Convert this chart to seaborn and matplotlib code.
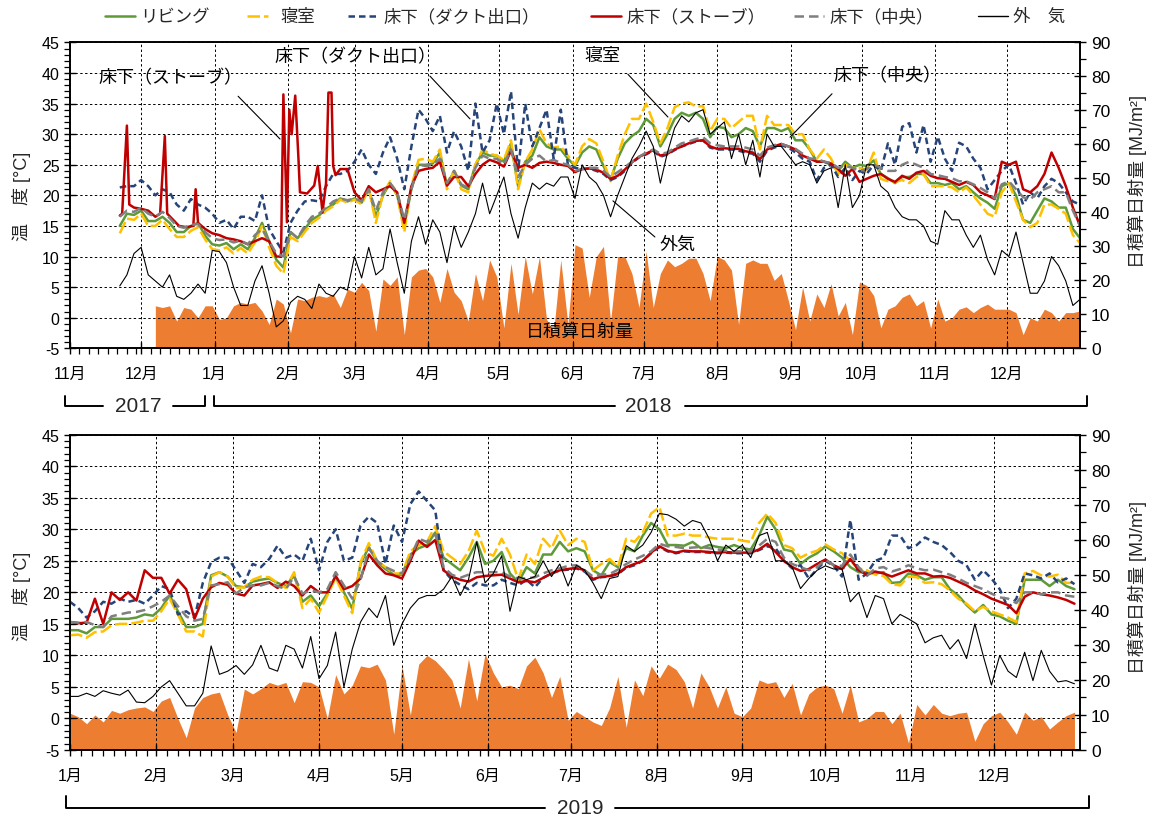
import numpy as np
import pandas as pd
import matplotlib
matplotlib.use('Agg')
import matplotlib.pyplot as plt
from matplotlib.lines import Line2D
from matplotlib.ticker import MultipleLocator
import matplotlib.dates as mdates
import seaborn as sns

N = np.nan

# ------------------------------------------------------------------
# DATA  (top panel: every 3 days from 2017-11-01, 143 points)
# ------------------------------------------------------------------
top_start = '2017-11-01'
top_outdoor = [N]*7 + [
    5.2, 7, 10.5, 11.5, 7, 6, 5, 7, 3.5, 3, 4, 5.5, 4, 11, 10.8, 9, 5, 2, 2, 6,
    8.5, 4, -1.5, -0.5, 2.5, 3.5, 3, 1.5, 5.5, 4, 3.5, 5, 4.5, 10, 6.5, 11.5, 7, 8, 14.5, 9,
    4, 12.5, 16.5,
    12, 16, 14, 9, 15, 11.5, 14, 17, 22, 17, 20, 23, 17, 13, 18, 22, 21, 22, 21.5, 23,
    23, 19.5, 25, 23, 22, 20, 16.5, 20, 23, 26, 28, 30.5, 28, 22, 27, 31, 33, 32, 33.5, 34,
    30, 31, 32, 26, 30, 25, 29,
    23, 30, 28, 28, 26.5, 25, 25.5, 25, 22, 24, 24.5, 18, 25, 18, 20, 25, 25, 21.5, 20.5, 18,
    16.5, 16, 16, 15, 12.5, 12, 17.5, 16, 16, 13.5, 11.5, 13.5, 9.5, 7, 11, 10, 14, 9, 4, 4,
    6, 10, 8.5, 6, 2, 3]
top_living = [N]*7 + [
    15, 17, 16.8, 17.5, 15.8, 15.8, 16.5, 15.5, 14, 14, 15, 15.5, 13.4, 12, 11.8, 12.2, 11.2, 12, 11.2, 13,
    15.5, 12.5, 9.5, 8.2, 14, 13, 14.5, 16, 16.7, 17.8, 18.5, 19.5, 19, 19.5, 18.8, 21, 16.5, 20, 22, 20,
    15, 21, 25,
    25, 25.2, 27, 21.6, 24, 21.6, 21, 25, 27, 26.5, 26.5, 25.5, 28.5, 21.5, 25.5, 26.5, 29.5, 28, 27.5, 27.5,
    26, 24.8, 27, 28, 27.5, 24.8, 22.5, 26, 28.5, 29.7, 30.5, 32.5, 31.5, 28, 30, 32.5, 33.5, 33, 33.5, 32.5,
    29.5, 31.2, 31, 29.5, 30, 31, 30.5,
    28, 31, 31, 30.5, 31, 29, 29, 27.5, 25.5, 25.5, 25, 24, 25.5, 24.5, 25, 24.8, 25.7, 23.5, 22.8, 22,
    23, 23, 23.5, 23.5, 22, 22, 21.7, 22, 21, 21.5, 20.5, 19.5, 18.8, 17.8, 21.5, 22, 20, 16, 15.5, 17.5,
    19.5, 19, 18, 18, 14.5, 13]
top_bedroom = [N]*7 + [
    13.8, 16.2, 16, 17, 15, 15, 16, 14.5, 13.2, 13.2, 14.2, 14.8, 12.8, 11.2, 11, 11.5, 10.5, 11.4, 10.5, 12.3,
    15, 11.5, 8.5, 7.2, 13.2, 12.5, 14, 15.5, 16.3, 17.5, 18.2, 19.3, 18.8, 19.3, 18.5, 21.2, 15.5, 20.2, 22.3, 20,
    14, 21.5, 25.8,
    26, 25.5, 27.5, 21, 24.2, 21, 20.5, 25, 27.5, 26.8, 26.5, 25.8, 29, 21, 25.5, 27.5, 30.8, 28.5, 27.8, 28,
    26.5, 25, 28, 29.2, 28.5, 25.5, 22.3, 26.5, 30, 32.5, 32.5, 35, 32, 28.5, 31, 34.4, 35, 35.2, 34.5, 34.6,
    30.5, 32.5, 32.5, 31, 32, 33, 33,
    27.5, 33, 31.5, 31.5, 31.5, 30, 30, 27.5, 26, 27.5, 26, 23.5, 25, 24.5, 24.5, 24.2, 27, 22.7, 22.3, 22.2,
    22.5, 22, 23, 23.5, 21.5, 21.5, 21.5, 21.3, 20.5, 21.3, 20, 18.5, 17, 16.5, 20.5, 22, 19, 16, 14.8, 15.5,
    18.5, 18.5, 17.8, 17, 13.5, 12.2]
top_center = [N]*7 + [
    16.5, 17.5, 17.3, 18, 17, 16.5, 17.3, 16.3, 15, 14.7, 15.2, 15.3, 14, 13, 12.7, 12.8, 12.3, 12.6, 12, 13.5,
    14.5, 12.5, 10.5, 10, 14, 13, 15, 16.5, 17, 18, 19, 19.5, 19.2, 19.5, 19, 21, 17.5, 20.5, 22, 20.5,
    16, 21, 25,
    24.8, 25, 26, 22, 24, 21.8, 21.2, 24.5, 26.5, 26, 26, 25, 27.5, 23, 25, 26, 26.5, 25.5, 25.8, 25.3,
    25, 24, 24.3, 24.5, 24.5, 24, 23, 23.8, 24.6, 25.5, 26.3, 27, 27.5, 26.8, 27, 27.8, 28.5, 28.8, 29.2, 29.5,
    28.5, 28.2, 28, 28, 28, 27.8, 27.5,
    26.5, 27.8, 28.2, 28.4, 28, 27.6, 26.8, 26, 26, 25.5, 25.3, 24.5, 24.8, 24.5, 24, 24.3, 25, 24.5, 24, 24,
    25, 25.5, 25, 24.5, 23.5, 23.3, 23, 22.8, 22.3, 22.3, 21.8, 21.2, 20.5, 19.5, 21.8, 22.3, 21, 19.7, 19.3, 20.5,
    21, 21.5, 20.5, 20.5, 17.5, 15]
top_duct = [N]*7 + [
    21.3, 21.5, 21.5, 22.5, 21.5, 20, 21, 20.5, 18.5, 17.5, 19.4, 18.5, 18, 17, 15.5, 16, 14.5, 16.5, 16.5, 15.8,
    20, 14.5, 12.5, 10.7, 15.5, 17.5, 19, 19.2, 19, 21.5, 23.5, 23.5, 24, 25.5, 27.5, 25, 23.5, 27, 29.5, 26,
    21, 28, 34,
    32.5, 30.5, 33, 27, 30.5, 28, 24, 35, 27, 29, 35, 30, 37, 24, 35, 28, 31, 34, 26, 34,
    25, 24.5, 24.3, 24.4, 24, 23.5, 22.5, 23, 24, 25.3, 26.2, 26.7, 27.3, 26.3, 26.7, 27.4, 28, 28.4, 28.8, 29,
    27.8, 27.5, 27.5, 27.5, 27.3, 27, 26.8,
    25.5, 27.3, 27.8, 28.2, 27.8, 27, 26, 25.5, 22.5, 24.5, 25, 23, 24.5, 22.5, 24, 23.5, 25, 24, 28.5, 25,
    31.2, 31.8, 27, 31.5, 25.5, 29.6, 26, 24, 28.6, 28, 26, 24.5, 21, 22.5, 24, 25, 22, 18.5, 20.5, 19.5,
    21.5, 22.7, 22, 20.5, 19, 18.5]
# stove under floor: day offsets from top_start (irregular to keep the narrow spikes)
top_stove_day = [21, 22, 24, 25, 27, 30, 33, 36, 38, 40, 41, 43, 46, 49, 52, 53, 54, 57, 60, 63,
                 66, 69, 72, 75, 78, 81, 84, 87, 89, 90, 91.5, 92.5, 93.5, 95, 96.3, 97, 100, 103, 104.5, 106.5,
                 108, 109, 110.3, 111, 112, 114, 117] + list(range(120, 427, 3))
top_stove = [16.7, 17, 31.4, 18.5, 18, 17.8, 17.5, 16.5, 17, 29.7, 17, 16.2, 15, 14.8, 15, 21, 15.5, 14.5, 13.8, 13.5,
             13, 12.8, 12.5, 12, 12.5, 13, 12.5, 10, 10, 36.5, 15.6, 34, 30, 36.3, 26.5, 20.5, 20.3, 21.6, 24.8, 17.2,
             22, 36.8, 36.8, 24.8, 23.3, 24.3, 24.3,
             20.5, 19.2, 21.5, 20.5, 21, 21.5, 20.5, 15.5, 21.5, 24,
             24.3, 24.5, 25.5, 21.6, 23, 23, 21.5, 23.5, 25, 25.8, 25.4, 24.7, 27.3, 24.5, 25, 24.5, 25.3, 25.5, 25.3, 25,
             24.8, 23.8, 24.3, 24.4, 24.2, 23.7, 22.7, 23.2, 24.2, 25.4, 26.3, 26.8, 27.4, 26.5, 26.8, 27.5, 28, 28.5, 28.9, 29,
             28, 27.6, 27.7, 27.6, 27.6, 27.2, 27,
             25.9, 27.5, 28, 28.4, 28, 27.5, 26.5, 26, 25.5, 25.5, 25.2, 24.3, 23.2, 24.3, 22.2, 22.7, 23.2, 23.5, 22.7, 22.2,
             23.2, 22.7, 23.7, 24, 23.2, 22.8, 22.7, 22.2, 21.7, 22.2, 21.7, 20.5, 20, 19.4, 25.5, 25, 25.5, 21, 20.5, 21.5,
             23.5, 27, 24.5, 21.5, 18, 15]
top_solar = [N]*12 + [
    12.5, 12, 12.5, 8, 12, 11.5, 9, 12.5, 12.5, 8.5, 9, 12.5, 13.5, 13, 13.5, 11, 7, 14.5, 13, 4.5,
    14.5, 14, 15, 15.5, 15, 16, 12, 17.4, 16.5, 19.4, 17, 5, 20.4, 18.5, 21, 4, 21, 23,
    23.5, 21, 13.5, 23.5, 16.5, 14, 8, 22, 14, 26, 21, 6, 25, 10, 27, 16, 27, 8.5, 5, 26,
    7, 30.5, 29.5, 15, 27, 30, 8, 27, 27, 22, 12, 28.5, 12, 22, 26, 24, 25, 26.5, 26.5, 22,
    14, 27, 26, 23, 7, 25, 26,
    25, 25, 20, 22, 14, 5.5, 18, 8, 16, 12, 19, 9.5, 13.5, 4, 19.5, 18.5, 15.5, 6, 11.5, 12.5,
    15, 16, 12.5, 14, 6, 14.5, 8, 9, 11.5, 12.2, 10.5, 12, 13, 11.5, 11.5, 11.5, 10.5, 4, 9, 8,
    11.5, 10.5, 8, 10.5, 10.5, 11]

# ------------------------------------------------------------------
# DATA  (bottom panel: every 3 days from 2019-01-01, 122 points)
# ------------------------------------------------------------------
bot_start = '2019-01-01'
bot_outdoor = [
    3.5, 3.5, 4, 3.5, 4.4, 4, 3.7, 4.5, 2.6, 2.5, 3.5, 5, 6, 4, 2, 2, 4, 11.5, 7, 7.5,
    8.4, 7, 8.5, 11.6, 8, 7.5, 11.6, 11, 8, 13, 6.3, 8.4, 13.7, 5, 11, 15.3, 17.5, 16, 19.5, 11.6,
    15, 17.5, 19,
    19.5, 19.5, 20.5, 22.5, 19.5, 22, 28, 21.5, 23, 25.8, 17, 22.5, 22, 22.5, 25, 22.5, 24.5, 21, 24.3, 23.5,
    21.5, 19, 22.2, 22.5, 27.4, 26.5, 27.5, 29.5, 32.5, 32.3, 31.6, 30.5, 31.4, 31, 28.5, 25, 27.5, 26.5, 27.5, 25.5,
    29,
    29.5, 25, 25, 24, 20.6, 22.2, 23.5, 24.2, 23.7, 23.7, 18.5, 20, 16, 19.5, 19, 15, 16.5, 15.8, 15, 12,
    12.8, 13.2, 11, 12.5, 9.5, 15, 10, 5.3, 10, 7.5, 6.5, 10.5, 6, 10.8, 7.5, 5.8, 6, 5.5]
bot_living = [
    14, 14, 13.5, 14.5, 14.5, 15.8, 15.8, 15.8, 16, 16.5, 16.3, 17.5, 19.5, 17, 14.5, 14.5, 15, 22.7, 23.2, 22.5,
    21, 20.8, 21.7, 22, 22.2, 21.5, 21, 22.7, 18.5, 19.5, 17.8, 19.8, 22.5, 20, 17.4, 24.5, 27.2, 24.8, 23.7, 22.8,
    22.8, 26, 27,
    27.5, 29.5, 25.5, 24.5, 23.5, 25.5, 28, 24.5, 25, 26.4, 23, 21.6, 24, 23, 26, 26, 28, 26.5, 27, 26.5,
    23.5, 22.7, 24.8, 24, 27, 26.5, 29, 31, 30, 27.5, 27.5, 27.4, 28, 27, 27.5, 27.2, 27, 27.5, 27, 26.8,
    29,
    32, 30, 26.8, 26.5, 24.5, 25.5, 26.2, 27.3, 26.5, 25.5, 24, 23.2, 23.2, 23, 23.2, 21.5, 21.6, 23, 22.7, 22,
    22.4, 22.4, 20.5, 19.5, 18, 16.8, 18, 16.5, 16.2, 15.5, 15, 22, 22, 22, 21, 22, 21, 20.5]
bot_bedroom = [
    13.2, 13.3, 12.8, 13.7, 13.8, 14.8, 15, 15, 15.2, 15.5, 15.5, 17, 19, 16.5, 13.8, 13.8, 13, 22.5, 23.2, 22.5,
    20.7, 20.8, 22, 22.5, 22.4, 21.5, 20.7, 23.2, 17.5, 19, 16.8, 19.5, 22.3, 19.5, 16.7, 24.8, 27.8, 25, 24, 23,
    23, 26.5, 27.5,
    28, 30.5, 26.5, 25.5, 24.5, 26.5, 29.8, 26.4, 25.8, 28.5, 26, 22, 26, 24.5, 28.5, 27, 29.8, 27.5, 28.5, 28,
    23.5, 24.5, 25.3, 24, 28.5, 28, 29.5, 32.5, 33.5, 29, 29, 29.3, 29, 29, 28.7, 28.5, 28.5, 28.5, 28.2, 28,
    31,
    32.5, 31, 27.5, 27, 25.5, 26.2, 26.6, 27.6, 26.8, 26.2, 25, 23.8, 23.5, 22.8, 22.6, 21.3, 21.1, 22.5, 22.4, 21.5,
    21.6, 21.3, 20.3, 19, 18.2, 17, 17.7, 17, 16.5, 16, 15.3, 23, 23.4, 22.7, 22.5, 22.8, 21.5, 21.5]
bot_center = [
    15.3, 15.2, 15.3, 14.8, 14.5, 16.2, 16.5, 16.8, 16.9, 17.2, 17.8, 18.5, 19.5, 17.8, 16.2, 15.5, 15.8, 21.1, 21.3, 21.6,
    19.8, 20.8, 21.1, 21.1, 21.5, 21, 20.5, 22.5, 19.8, 20.3, 20, 20.5, 23.2, 21.1, 19, 22, 27, 25, 24, 23.4,
    23, 25.5, 28.5,
    28, 29.3, 24, 22.8, 22.3, 22.8, 23.2, 23.2, 23.2, 23.2, 22.5, 22.2, 22.2, 22.4, 23, 23.5, 23.8, 24.2, 24.3, 23.5,
    22.5, 22.8, 22.9, 23.6, 24.5, 25.2, 25.8, 26.5, 27.7, 27.3, 27.2, 27, 27.1, 27.2, 27, 26.8, 26.6, 26.5, 26.5, 26.5,
    27.4,
    28.5, 28, 25.5, 24.5, 24, 23.5, 24, 25.2, 24.3, 24.2, 26, 24, 22.6, 23.8, 24, 23.3, 23.7, 24.3, 23.8, 23.5,
    23.6, 23.2, 22.8, 22.2, 21.5, 21, 20.5, 19.8, 19.2, 19, 18.3, 20, 20, 19.7, 20, 20, 19.5, 19.3]
bot_stove = [
    15.3, 15.1, 15.2, 19, 15, 20, 18.8, 20, 18.7, 23.5, 22.3, 22.3, 19.8, 22, 20.5, 15.8, 19, 20.8, 21.5, 21.2,
    19.8, 19.5, 21.1, 21.3, 21.6, 20.7, 21.7, 21, 19.5, 21, 20, 20, 22.6, 20.5, 21, 22.2, 26, 24.3, 23, 22.7,
    22.2, 25, 28.2,
    27.2, 28.3, 23.5, 22.5, 22, 21.7, 22.4, 22.6, 22.7, 22.8, 22.2, 21.6, 21.8, 21.6, 22.3, 23, 23.5, 23.7, 23.9, 23.5,
    22.1, 22.5, 22.6, 23, 24, 24.5, 25, 26.3, 27.3, 26.6, 26.3, 26.6, 26.5, 26.5, 26.4, 26.3, 26.4, 26.3, 26.3, 26.3,
    26.8,
    27.7, 26.4, 25, 24, 23.4, 23.7, 24.5, 25.2, 24.3, 23.7, 25.3, 23.5, 22.8, 23.3, 23, 22.5, 23, 23.5, 23, 23,
    22.5, 22.6, 22.3, 21.7, 21.1, 20.3, 19.7, 19, 18.5, 18, 16.7, 19.3, 20, 19.7, 19.5, 19.2, 18.8, 18.2]
bot_duct = [
    18.5, 17.5, 16, 17, 18.5, 18.2, 19, 18.5, 18.8, 18.2, 19.5, 21, 20.5, 16.5, 17, 16, 21.5, 24.8, 25.5, 25.5,
    23.5, 21.5, 24.5, 24, 25.3, 27.4, 25.5, 26, 25, 28.5, 23.5, 28, 30, 25, 25.5, 30.6, 32, 31, 24.5, 30.6,
    28, 34, 36,
    34.5, 33, 23.5, 22, 21.2, 20.5, 21.5, 21.1, 21.1, 22, 21.5, 21.1, 22, 20.8, 22.3, 23, 23.5, 23.6, 23.8, 23.3,
    22, 22.4, 22.5, 22.9, 23.9, 24.3, 25, 26.2, 27.2, 26.5, 26.2, 26.5, 26.4, 26.4, 26.3, 26.2, 26.3, 26.2, 26.2, 26.2,
    26.7,
    27.3, 27, 25, 23.8, 24.3, 22.2, 23.7, 25, 24.2, 22.5, 31.5, 22, 23, 25, 25.5, 29, 29, 27, 27.5, 28.7,
    28, 27.5, 26.4, 25, 24.3, 22, 23.5, 22.2, 20.5, 17.5, 19, 23, 22.7, 22.2, 23, 21.6, 22.2, 21.3]
bot_solar = [
    10.5, 9.5, 7.5, 10, 8, 11.3, 10.5, 11.5, 12, 12.3, 11, 14, 15, 9, 3.5, 12, 15, 16, 16.5, 10,
    5, 17.4, 16, 17.5, 19.3, 18.5, 19.3, 13.5, 19.5, 19.3, 18, 9, 21.5, 16, 18.5, 24, 23.5, 24.5, 20, 4.5,
    24, 10, 24.5,
    27, 25.5, 23, 20, 12, 26, 14, 27.5, 22, 18, 18.5, 17.5, 24, 26.5, 22, 15, 21, 8.5, 11, 9.5,
    8, 7, 12, 21, 6.5, 20, 15.5, 24, 20.5, 24.5, 23, 19.5, 12, 22, 18, 12, 18, 10.5, 9.5, 12,
    20,
    19, 19.5, 15, 19, 10, 16, 18, 18.5, 17.5, 10.5, 18.5, 8, 9, 11, 11, 7.5, 10.5, 2, 13, 10,
    13, 10.5, 9.8, 10.5, 10.8, 2.5, 7.5, 9.8, 10.8, 8, 4.5, 10.8, 8.5, 9.5, 6, 8, 9.8, 10.8]

series_labels = ['リビング', '寝室', '床下（ダクト出口）', '床下（ストーブ）', '床下（中央）', '外　気']

# ------------------------------------------------------------------
# STYLE
# ------------------------------------------------------------------
sns.set_theme(style='white')
plt.rcParams['font.family'] = ['Liberation Sans', 'Noto Sans CJK JP', 'DejaVu Sans']
plt.rcParams['axes.unicode_minus'] = False

ORANGE = '#ED7D31'
STY = [
    dict(color='#5E9A38', lw=1.8, ls='-'),
    dict(color='#FFC000', lw=1.8, ls=(0, (5, 1.6))),
    dict(color='#264478', lw=1.8, ls=(0, (2.6, 1.6))),
    dict(color='#C00000', lw=1.8, ls='-'),
    dict(color='#7F7F7F', lw=1.8, ls=(0, (3.8, 2))),
    dict(color='#000000', lw=0.8, ls='-'),
]

W, H = 1150, 820
fig = plt.figure(figsize=(W / 100, H / 100), dpi=100)


def fx(px):
    return px / W


def fy(py):
    return 1 - py / H


def panel(rect, start, npts, temps, stove_dates, stove_vals, solar, x_end, months):
    ax = fig.add_axes(rect)
    ax2 = ax.twinx()
    ax.set_zorder(ax2.get_zorder() + 1)
    ax.patch.set_visible(False)
    dates = pd.date_range(start, periods=npts, freq='3D')
    # solar fill on right axis
    ax2.fill_between(dates, np.array(solar, dtype=float), 0, color=ORANGE, lw=0)
    # temperatures
    for k, vals in enumerate(temps):
        if k == 3:
            df = pd.DataFrame({'date': stove_dates, 'temp': stove_vals})
        else:
            df = pd.DataFrame({'date': dates, 'temp': np.array(vals, dtype=float)})
        df = df.dropna()
        s = STY[k]
        sns.lineplot(data=df, x='date', y='temp', ax=ax, color=s['color'], linewidth=s['lw'],
                     linestyle=s['ls'], estimator=None, sort=False, legend=False)
    ax.set_xlim(mdates.date2num(pd.Timestamp(start)), mdates.date2num(pd.Timestamp(x_end)))
    ax.set_ylim(-5, 45)
    ax.yaxis.set_major_locator(MultipleLocator(5))
    ax.yaxis.set_minor_locator(MultipleLocator(1))
    ax.set_xticks(mdates.date2num(months))
    ax.set_xticklabels([f'{m.month}月' for m in months])
    ax.xaxis.set_minor_locator(mdates.DayLocator(bymonthday=[5, 9, 13, 17, 21, 25, 29]))
    ax.tick_params(axis='y', which='major', direction='inout', length=8, width=1,
                   colors='black', labelsize=11.5, left=True, right=False)
    ax.tick_params(axis='y', which='minor', direction='out', length=4, width=0.9,
                   colors='black', left=True, right=False)
    ax.tick_params(axis='x', which='major', direction='inout', length=8, width=1,
                   colors='black', labelsize=11.5, bottom=True, top=False, pad=9)
    ax.tick_params(axis='x', which='minor', direction='out', length=4, width=0.9,
                   colors='black', bottom=True, top=False)
    ax.grid(True, which='major', color='black', linestyle=(0, (2.5, 2.5)), linewidth=0.7)
    ax.grid(False, which='minor')
    ax.set_axisbelow(True)
    ax.set_xlabel('')
    ax.set_ylabel('')
    for sp in ax.spines.values():
        sp.set_visible(True)
        sp.set_color('black')
        sp.set_linewidth(1.2)
    ax2.set_ylim(0, 90)
    ax2.yaxis.set_major_locator(MultipleLocator(10))
    ax2.yaxis.set_minor_locator(MultipleLocator(5))
    ax2.tick_params(axis='y', which='major', direction='inout', length=8, width=1, colors='black',
                    labelsize=12.5, right=True, left=False, labelright=True, labelleft=False, pad=4)
    ax2.tick_params(axis='y', which='minor', direction='out', length=4, width=0.9, colors='black',
                    right=True, left=False)
    ax2.grid(False)
    ax2.set_ylabel('')
    for sp in ax2.spines.values():
        sp.set_visible(True)
        sp.set_color('black')
        sp.set_linewidth(1.2)
    return ax, ax2


# ---------------- top panel ----------------
top_months = pd.date_range('2017-11-01', '2018-12-01', freq='MS')
stove_dates_top = pd.Timestamp(top_start) + pd.to_timedelta(top_stove_day, unit='D')
axT, axT2 = panel([fx(70), fy(349.3), fx(1080) - fx(70), fy(43.4) - fy(349.3)], top_start, 143,
                  [top_living, top_bedroom, top_duct, None, top_center, top_outdoor],
                  stove_dates_top, top_stove, top_solar, '2019-01-01', top_months)

# ---------------- bottom panel ----------------
bot_months = pd.date_range('2019-01-01', '2019-12-01', freq='MS')
bot_dates = pd.date_range(bot_start, periods=122, freq='3D')
axB, axB2 = panel([fx(70), fy(751), fx(1080) - fx(70), fy(435.7) - fy(751)], bot_start, 122,
                  [bot_living, bot_bedroom, bot_duct, None, bot_center, bot_outdoor],
                  bot_dates, bot_stove, bot_solar, '2020-01-01', bot_months)

# ---------------- annotations (top panel) ----------------
t0 = pd.Timestamp(top_start)


def tp(day):
    return mdates.date2num(t0 + pd.Timedelta(days=day))


ann_fs = 13
notes = [
    ('床下（ストーブ）', (42.2, 39.3), (70.9, 36.2), (88.6, 29.2)),
    ('床下（ダクト出口）', (120.6, 42.6), (151.8, 39.5), (168.7, 32.5)),
    ('寝室', (224.4, 42.8), (235.3, 39.8), (252.2, 32.8)),
    ('床下（中央）', (344.6, 39.5), (321.4, 36.6), (303.7, 29.5)),
    ('外気', (256.4, 12.0), (246.7, 13.2), (229.0, 19.1)),
]
for txt, (tx, ty), (l0x, l0y), (l1x, l1y) in notes:
    axT.text(tp(tx), ty, txt, ha='center', va='center', fontsize=ann_fs, color='black', zorder=10)
    axT.plot([tp(l0x), tp(l1x)], [l0y, l1y], color='black', lw=0.8, zorder=10)
axT.text(tp(215), -2.3, '日積算日射量', ha='center', va='center', fontsize=ann_fs, color='black', zorder=10)

# ---------------- axis titles ----------------
for yl, yr in ((196, 181), (596, 588)):
    fig.text(fx(22), fy(yl), '温　度 [°C]', rotation=90, ha='center', va='center', fontsize=13)
    fig.text(fx(1137), fy(yr), '日積算日射量 [MJ/m²]', rotation=90, ha='center', va='center', fontsize=13)

# ---------------- legend (manual, figure coords) ----------------
leg_text_x = [140, 280, 383, 626, 829, 1013]
for k, (lab, tx) in enumerate(zip(series_labels, leg_text_x)):
    s = STY[k]
    x0 = tx - 35 if k != 1 else tx - 33
    x1 = tx - 5 if k != 1 else tx - 12
    fig.add_artist(Line2D([fx(x0), fx(x1)], [fy(17), fy(17)], color=s['color'],
                          lw=max(s['lw'], 1.0), linestyle=s['ls'], transform=fig.transFigure))
    fig.text(fx(tx), fy(17), lab, ha='left', va='center', fontsize=12.5)

# ---------------- year brackets ----------------


def bracket(x0, x1, yline, ytick, text, tx, gap0, gap1):
    kw = dict(color='black', lw=1.4, transform=fig.transFigure)
    fig.add_artist(Line2D([fx(x0), fx(x0), fx(gap0)], [fy(ytick), fy(yline), fy(yline)], **kw))
    fig.add_artist(Line2D([fx(gap1), fx(x1), fx(x1)], [fy(yline), fy(yline), fy(ytick)], **kw))
    fig.text(fx(tx), fy(yline), text, ha='center', va='center', fontsize=15)


bracket(65, 205, 407, 397, '2017', 138, 103, 173)
bracket(214, 1087, 407, 397, '2018', 648, 615, 685)
bracket(66, 1089, 809, 797, '2019', 580, 545, 615)

fig.savefig('out.png', dpi=100)
